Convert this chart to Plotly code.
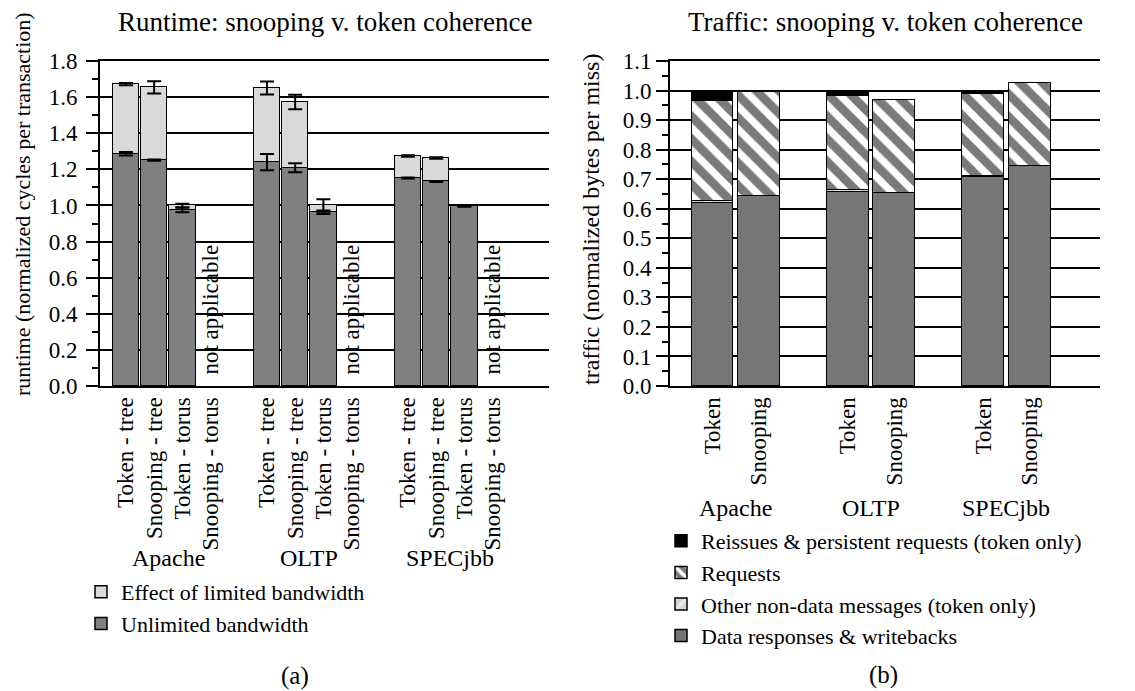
import plotly.graph_objects as go

# page body has an 8px default margin; size the figure so it fits the 1135x691 window
OFF = 8
W, H = 1135 - OFF, 691 - OFF
FONT = "Liberation Serif"

# ---------------- data ----------------
groups = ["Apache", "OLTP", "SPECjbb"]

# (a) runtime
rt_configs = ["Token - tree", "Snooping - tree", "Token - torus", "Snooping - torus"]
# flattened: Apache x4, OLTP x4, SPECjbb x4 (None = not applicable)
rt_unlimited = [1.286, 1.251, 0.975, None,
                1.240, 1.209, 0.962, None,
                1.152, 1.133, 0.995, None]
rt_total = [1.672, 1.654, 1.000, None,
            1.650, 1.573, 1.000, None,
            1.274, 1.263, 1.000, None]
rt_total_err = [0.006, 0.034, 0.010, None,
                0.036, 0.040, 0.035, None,
                0.004, 0.004, 0.003, None]
rt_unlimited_err = [0.010, 0.004, 0.012, None,
                    0.045, 0.025, 0.010, None,
                    0.003, 0.003, 0.002, None]

# (b) traffic
tr_protocols = ["Token", "Snooping"]
tr_data = [0.620, 0.642, 0.658, 0.652, 0.706, 0.746]
tr_other = [0.007, None, 0.004, None, 0.005, None]
tr_requests = [0.339, 0.352, 0.320, 0.316, 0.278, 0.278]
tr_reissues = [0.034, None, 0.017, None, 0.008, None]

# ---------------- layout helpers ----------------
def px_x(p):
    return (p - OFF) / W

def px_y(p):
    return (H - (p - OFF)) / H

GS_L = 5      # slot step between groups (left)
GS_R = 2.91   # slot step between groups (right)
xl = [g * GS_L + b for g in range(len(groups)) for b in range(len(rt_configs))]
xr = [g * GS_R + b for g in range(len(groups)) for b in range(len(tr_protocols))]
rt_labels = [c for _ in groups for c in rt_configs]
tr_labels = [c for _ in groups for c in tr_protocols]

rt_effect = [None if (t is None or u is None) else t - u for t, u in zip(rt_total, rt_unlimited)]

outline = dict(color="black", width=1.5)

fig = go.Figure()

# ----- left chart -----
fig.add_trace(go.Bar(x=xl, y=rt_unlimited, width=0.94, name="Unlimited bandwidth",
                     marker=dict(color="#808080", line=outline),
                     xaxis="x", yaxis="y", legend="legend"))
fig.add_trace(go.Bar(x=xl, y=rt_effect, width=0.94, name="Effect of limited bandwidth",
                     marker=dict(color="#d9d9d9", line=outline),
                     xaxis="x", yaxis="y", legend="legend"))
fig.add_trace(go.Scatter(x=xl, y=rt_unlimited, mode="markers",
                         marker=dict(color="rgba(0,0,0,0)", size=1),
                         error_y=dict(type="data", array=rt_unlimited_err, color="black",
                                      thickness=2, width=7),
                         showlegend=False, hoverinfo="skip", xaxis="x", yaxis="y"))
fig.add_trace(go.Scatter(x=xl, y=rt_total, mode="markers",
                         marker=dict(color="rgba(0,0,0,0)", size=1),
                         error_y=dict(type="data", array=rt_total_err, color="black",
                                      thickness=2, width=7),
                         showlegend=False, hoverinfo="skip", xaxis="x", yaxis="y"))

# ----- right chart -----
fig.add_trace(go.Bar(x=xr, y=tr_data, width=0.9, name="Data responses &amp; writebacks",
                     marker=dict(color="#767676", line=outline),
                     xaxis="x2", yaxis="y2", legend="legend2"))
fig.add_trace(go.Bar(x=xr, y=tr_other, width=0.9, name="Other non-data messages (token only)",
                     marker=dict(color="#d4d4d4", line=outline,
                                 pattern=dict(shape="/", fgcolor="white", size=14, solidity=0.4)),
                     xaxis="x2", yaxis="y2", legend="legend2"))
fig.add_trace(go.Bar(x=xr, y=tr_requests, width=0.9, name="Requests",
                     marker=dict(color="#7a7a7a", line=outline,
                                 pattern=dict(shape="\\", fgcolor="white", fgopacity=1,
                                              size=16, solidity=0.45)),
                     xaxis="x2", yaxis="y2", legend="legend2"))
fig.add_trace(go.Bar(x=xr, y=tr_reissues, width=0.9, name="Reissues &amp; persistent requests (token only)",
                     marker=dict(color="black", line=outline),
                     xaxis="x2", yaxis="y2", legend="legend2"))

tickfont = dict(family=FONT, size=23, color="black")

def yaxis_common(top, step, minor_step, standoff):
    n = int(round(top / step))
    return dict(
        range=[0, top], tickvals=[round(i * step, 2) for i in range(n + 1)], tickformat=".1f",
        ticks="outside", ticklen=12, tickwidth=1.5, tickcolor="black",
        ticklabelstandoff=standoff,
        showgrid=True, gridcolor="black", gridwidth=1.5,
        showline=True, linecolor="black", linewidth=2, zeroline=False,
        minor=dict(dtick=minor_step, tick0=0, ticks="outside", ticklen=6, tickwidth=1.5,
                   tickcolor="black", showgrid=False),
        tickfont=tickfont, automargin=False, fixedrange=True,
    )

legend_font = dict(family=FONT, size=22, color="black")

fig.update_layout(
    width=W, height=H, margin=dict(l=0, r=0, t=0, b=0, autoexpand=False),
    paper_bgcolor="white", plot_bgcolor="white",
    barmode="stack", bargap=0,
    font=dict(family=FONT, size=23, color="black"),
    xaxis=dict(domain=[px_x(100), px_x(549)], range=[-0.92, 15.0],
               tickvals=xl, ticktext=rt_labels, tickangle=-90, ticks="",
               showline=True, mirror=True, linecolor="black", linewidth=2,
               showgrid=False, zeroline=False, tickfont=tickfont, automargin=False,
               fixedrange=True),
    yaxis=dict(domain=[px_y(386), px_y(61)], **yaxis_common(1.8, 0.2, 0.1, 4)),
    xaxis2=dict(domain=[px_x(670), px_x(1100)], range=[-0.914, 8.333], anchor="y2",
                tickvals=xr, ticktext=tr_labels, tickangle=-90, ticks="",
                showline=True, mirror=True, linecolor="black", linewidth=2,
                showgrid=False, zeroline=False, tickfont=tickfont, automargin=False,
                fixedrange=True),
    yaxis2=dict(domain=[px_y(386), px_y(61)], anchor="x2", **yaxis_common(1.1, 0.1, 0.05, 0)),
    legend=dict(x=px_x(81), y=px_y(571), xanchor="left", yanchor="top",
                traceorder="reversed", font=legend_font,
                bgcolor="rgba(0,0,0,0)", borderwidth=0, tracegroupgap=0),
    legend2=dict(x=px_x(661), y=px_y(520), xanchor="left", yanchor="top",
                 traceorder="reversed", font=legend_font,
                 bgcolor="rgba(0,0,0,0)", borderwidth=0, tracegroupgap=0),
    showlegend=True,
)

def note(text, x, y, size, xref="paper", yref="paper", **kw):
    d = dict(text=text, x=x, y=y, xref=xref, yref=yref, showarrow=False,
             xanchor="center", yanchor="middle", font=dict(family=FONT, size=size, color="black"))
    d.update(kw)
    return d

ann = []
# titles
ann.append(note("Runtime: snooping v. token coherence", px_x(324.5), px_y(22), 27))
ann.append(note("Traffic: snooping v. token coherence", px_x(885), px_y(22), 27))
# axis titles
ann.append(note("runtime (normalized cycles per transaction)", px_x(22), px_y(204), 22, textangle=-90))
ann.append(note("traffic (normalized bytes per miss)", px_x(591), px_y(220), 24, textangle=-90))
# group labels
for g, name in enumerate(groups):
    cl = g * GS_L + (len(rt_configs) - 1) / 2
    ann.append(note(name, cl, px_y(558), 24, xref="x"))
    cr = g * GS_R + (len(tr_protocols) - 1) / 2
    ann.append(note(name, cr, px_y(508), 24, xref="x2"))
# not applicable
for xv, v in zip(xl, rt_total):
    if v is None:
        ann.append(note("not applicable", xv, 0.05, 23, xref="x", yref="y",
                        textangle=-90, yanchor="bottom"))
# panel labels
ann.append(note("(a)", px_x(295), px_y(676), 25))
ann.append(note("(b)", px_x(883), px_y(675), 25))

fig.update_layout(annotations=ann)

fig.write_html("out.html")
